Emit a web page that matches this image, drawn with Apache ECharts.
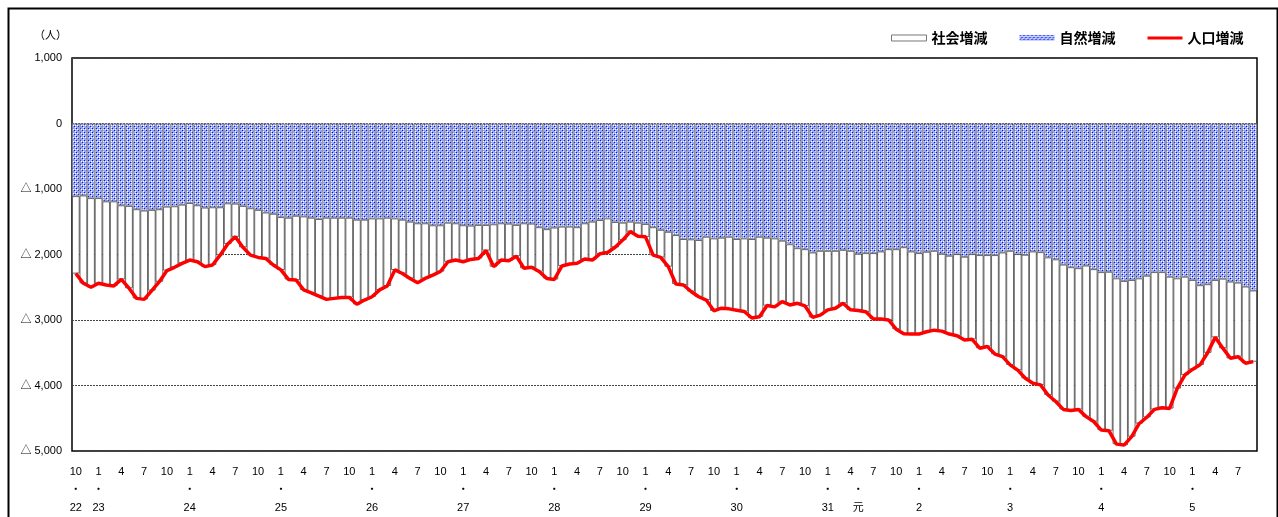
<!DOCTYPE html>
<html><head><meta charset="utf-8">
<script src="https://cdn.jsdelivr.net/npm/echarts@6/dist/echarts.min.js"></script>
<style>html,body{margin:0;padding:0;background:#fff}#c{width:1278px;height:517px}</style>
</head><body><div id="c"></div>
<script>
// 自然増減 (natural change), monthly, Oct 2010 (H22.10) .. Sep 2023 (R5.9)
const naturalChange = [
-1110,-1100,-1140,-1140,-1190,-1190,-1250,-1260,-1310,-1330,-1320,-1310,-1270,-1265,-1240,-1215,-1250,-1285,-1280,-1280,
-1220,-1225,-1260,-1295,-1320,-1360,-1380,-1430,-1440,-1410,-1420,-1440,-1460,-1440,-1440,-1440,-1440,-1470,-1470,-1450,
-1450,-1440,-1450,-1470,-1500,-1525,-1525,-1555,-1555,-1515,-1525,-1555,-1560,-1550,-1550,-1540,-1525,-1530,-1550,-1525,
-1530,-1585,-1615,-1590,-1575,-1575,-1585,-1525,-1500,-1475,-1450,-1505,-1515,-1500,-1515,-1535,-1585,-1625,-1655,-1705,
-1765,-1770,-1780,-1730,-1755,-1745,-1730,-1765,-1755,-1765,-1730,-1745,-1755,-1790,-1845,-1905,-1920,-1970,-1945,-1945,
-1945,-1930,-1945,-1990,-1980,-1980,-1955,-1920,-1920,-1890,-1955,-1980,-1960,-1945,-1990,-2020,-1995,-2035,-1995,-2010,
-2010,-2010,-1970,-1945,-1995,-2005,-1955,-1965,-2045,-2075,-2155,-2195,-2210,-2170,-2225,-2270,-2265,-2365,-2405,-2390,
-2365,-2325,-2270,-2270,-2340,-2365,-2340,-2390,-2470,-2455,-2390,-2370,-2415,-2430,-2490,-2550];
// 人口増減 (population change)
const populationChange = [
-2290,-2440,-2500,-2440,-2465,-2480,-2380,-2515,-2670,-2685,-2550,-2415,-2245,-2195,-2135,-2085,-2110,-2185,-2160,-2010,
-1840,-1730,-1890,-2010,-2045,-2060,-2160,-2235,-2380,-2390,-2540,-2585,-2635,-2685,-2670,-2655,-2655,-2760,-2695,-2645,
-2540,-2480,-2235,-2290,-2365,-2430,-2365,-2315,-2260,-2110,-2085,-2110,-2075,-2060,-1940,-2185,-2085,-2095,-2025,-2210,
-2195,-2260,-2365,-2380,-2175,-2145,-2135,-2070,-2085,-1990,-1970,-1890,-1780,-1650,-1720,-1730,-2010,-2045,-2185,-2450,
-2465,-2565,-2645,-2695,-2860,-2820,-2830,-2850,-2870,-2970,-2950,-2780,-2800,-2720,-2770,-2745,-2785,-2960,-2925,-2845,
-2820,-2745,-2845,-2855,-2875,-2985,-2985,-3000,-3140,-3210,-3215,-3215,-3180,-3155,-3170,-3215,-3240,-3305,-3295,-3430,
-3405,-3520,-3560,-3685,-3765,-3890,-3965,-3990,-4145,-4245,-4365,-4380,-4365,-4475,-4550,-4680,-4690,-4895,-4910,-4780,
-4580,-4485,-4365,-4340,-4350,-4045,-3840,-3755,-3685,-3500,-3265,-3430,-3585,-3560,-3660,-3635];
// 社会増減 (social change) = population change - natural change
const socialChange = populationChange.map((v, i) => v - naturalChange[i]);

// era-year marks shown under the month labels
const yearMarks = {
 '2010/10':'22','2011/1':'23','2012/1':'24','2013/1':'25','2014/1':'26','2015/1':'27','2016/1':'28',
 '2017/1':'29','2018/1':'30','2019/1':'31','2019/5':'元','2020/1':'2','2021/1':'3','2022/1':'4','2023/1':'5'};

const categories = [];
for (let i = 0; i < naturalChange.length; i++) {
  const k = 9 + i;
  categories.push((2010 + Math.floor(k / 12)) + '/' + (k % 12 + 1));
}

function makePattern() {
  const c = document.createElement('canvas');
  c.width = 4; c.height = 4;
  const g = c.getContext('2d');
  g.fillStyle = '#98a6f6'; g.fillRect(0, 0, 4, 4);
  g.fillStyle = '#ffffff'; g.fillRect(1, 1, 1, 1); g.fillRect(3, 3, 1, 1); g.fillRect(3, 1, 1, 1);
  g.fillStyle = '#0016ee'; g.fillRect(0, 0, 1, 1); g.fillRect(2, 2, 1, 1);
  return c;
}
const pattern = { image: makePattern(), repeat: 'repeat' };

const fmt = v => {
  const s = Math.abs(v).toLocaleString('en-US');
  return v < 0 ? '△ ' + s : s;
};

const chart = echarts.init(document.getElementById('c'), null, { renderer: 'canvas' });
chart.setOption({
  animation: false,
  backgroundColor: '#ffffff',
  textStyle: { fontFamily: '"Liberation Sans", "Noto Sans CJK JP", sans-serif' },
  grid: { left: 72, right: 21, top: 58, bottom: 66, show: true, borderColor: '#000', borderWidth: 1.5, containLabel: false },
  legend: {
    left: 886, top: 26, itemWidth: 35, itemHeight: 6, itemGap: 32,
    textStyle: { fontSize: 14, color: '#000', fontWeight: 'bold', fontFamily: '"Noto Sans CJK JP", sans-serif' },
    data: [
      { name: '社会増減', icon: 'rect', itemStyle: { color: '#ffffff', borderColor: '#777', borderWidth: 1 } },
      { name: '自然増減', icon: 'rect', itemStyle: { color: pattern, borderColor: '#9aa6f0', borderWidth: 0 } },
      { name: '人口増減', icon: 'path://M0,0H35V3H0Z', itemStyle: { color: '#ff0000', borderWidth: 0 } }
    ]
  },
  xAxis: {
    type: 'category', data: categories,
    axisLine: { onZero: false, show: false },
    axisTick: { show: false },
    axisLabel: {
      interval: 0, fontSize: 11, color: '#000', lineHeight: 18, margin: 12,
      formatter: function (v) {
        const m = parseInt(v.split('/')[1], 10);
        const y = yearMarks[v];
        const mm = (m % 3 === 1) ? String(m) : '';
        if (y) return mm + '\n・\n' + y;
        return mm ? mm + '\n\n' : '';
      }
    }
  },
  yAxis: {
    type: 'value', min: -5000, max: 1000, interval: 1000,
    axisLine: { show: false }, axisTick: { show: false },
    axisLabel: { fontSize: 11, color: '#000', margin: 10, formatter: fmt },
    splitLine: { show: true, lineStyle: { color: '#444', type: [2, 1], width: 1 } }
  },
  series: [
    {
      name: '自然増減', type: 'bar', stack: 'a', data: naturalChange,
      barCategoryGap: '0%',
      itemStyle: { color: pattern, borderColor: '#8a8a8a', borderWidth: 0.8 }
    },
    {
      name: '社会増減', type: 'bar', stack: 'a', data: socialChange,
      barCategoryGap: '0%',
      itemStyle: { color: '#ffffff', borderColor: '#444444', borderWidth: 0.8 }
    },
    {
      name: '人口増減', type: 'line', data: populationChange,
      symbol: 'none', showSymbol: false, z: 5,
      lineStyle: { color: '#ff0000', width: 3.5 }, itemStyle: { color: '#ff0000' }
    }
  ],
  graphic: [
    { type: 'text', left: 34, top: 29, style: { text: '（人）', fill: '#000', font: '11px "Noto Sans CJK JP"' } },
    { type: 'rect', left: 6, top: 6, shape: { width: 1269, height: 540 }, style: { fill: 'none', stroke: '#000', lineWidth: 2 }, silent: true }
  ]
});
</script>
</body></html>
